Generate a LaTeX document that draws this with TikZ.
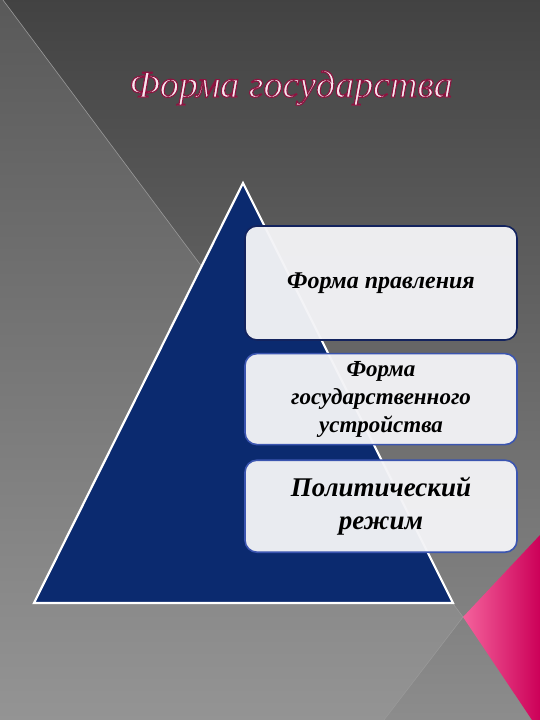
\documentclass[tikz,border=0pt]{standalone}
\usepackage{fontspec}
\setmainfont{Liberation Serif}
\usepackage{xcolor}
\usetikzlibrary{positioning}

\definecolor{navy}{HTML}{0B2A6F}
\definecolor{boxfill}{HTML}{F3F3F6}
\definecolor{boxdark}{HTML}{13235E}
\definecolor{boxblue}{HTML}{3B55B0}
\definecolor{pinkL}{HTML}{F4629C}
\definecolor{pinkD}{HTML}{CC0058}
\definecolor{titlefill}{HTML}{F8E6EE}

% outlined text (fill and stroke)
\newcommand\outlined[1]{\special{pdf:literal direct 2 Tr 1.1 w 0.55 0.08 0.25 RG}#1\special{pdf:literal direct 0 Tr}}

\tikzset{
  level/.style={draw=boxblue, line width=1.6pt, fill=boxfill, fill opacity=0.96,
    text opacity=1, text=black, rounded corners=12pt, minimum width=272pt,
    align=center, inner sep=2pt},
}

\begin{document}
\begin{tikzpicture}[x=1pt,y=-1pt]
	\useasboundingbox (0,0) rectangle (540,720);
	% background
	\shade[top color=black!74, bottom color=black!45] (0,0) rectangle (540,720);
	\shade[top color=black!65, bottom color=black!42]
	      (0,0) -- (3,0) -- (463,617) -- (384,720) -- (0,720) -- cycle;
	\draw[black!40, line width=0.6pt] (3,0) -- (463,617) -- (384,720);
	% corner
	\shade[left color=pinkL, right color=pinkD]
	      (463,617) -- (540,535) -- (540,720) -- (532,720) -- cycle;
	% title
	\node[text=titlefill] (title) at (291,88)
	      {\fontsize{38}{46}\selectfont\itshape\outlined{Форма государства}};
	% pyramid
	\coordinate (apex) at (243,183);
	\coordinate (left) at (34,603);
	\coordinate (right) at (453,603);
	\draw[white, line width=2.2pt, fill=navy, line join=miter]
	      (apex) -- (left) -- (right) -- cycle;
	% levels
	\node[level, draw=boxdark, minimum height=114pt,
	      font=\fontsize{24}{29}\selectfont\bfseries\itshape]
	      (upr) at (381,283) {Форма правления};
	\node[level, minimum height=91pt, below=12pt of upr,
	      font=\fontsize{23}{28}\selectfont\bfseries\itshape]
	      (ustr) {Форма\\государственного\\устройства};
	\node[level, minimum height=92pt, below=14pt of ustr,
	      font=\fontsize{27}{33}\selectfont\bfseries\itshape]
	      (rezh) {Политический\\режим};
\end{tikzpicture}
\end{document}
